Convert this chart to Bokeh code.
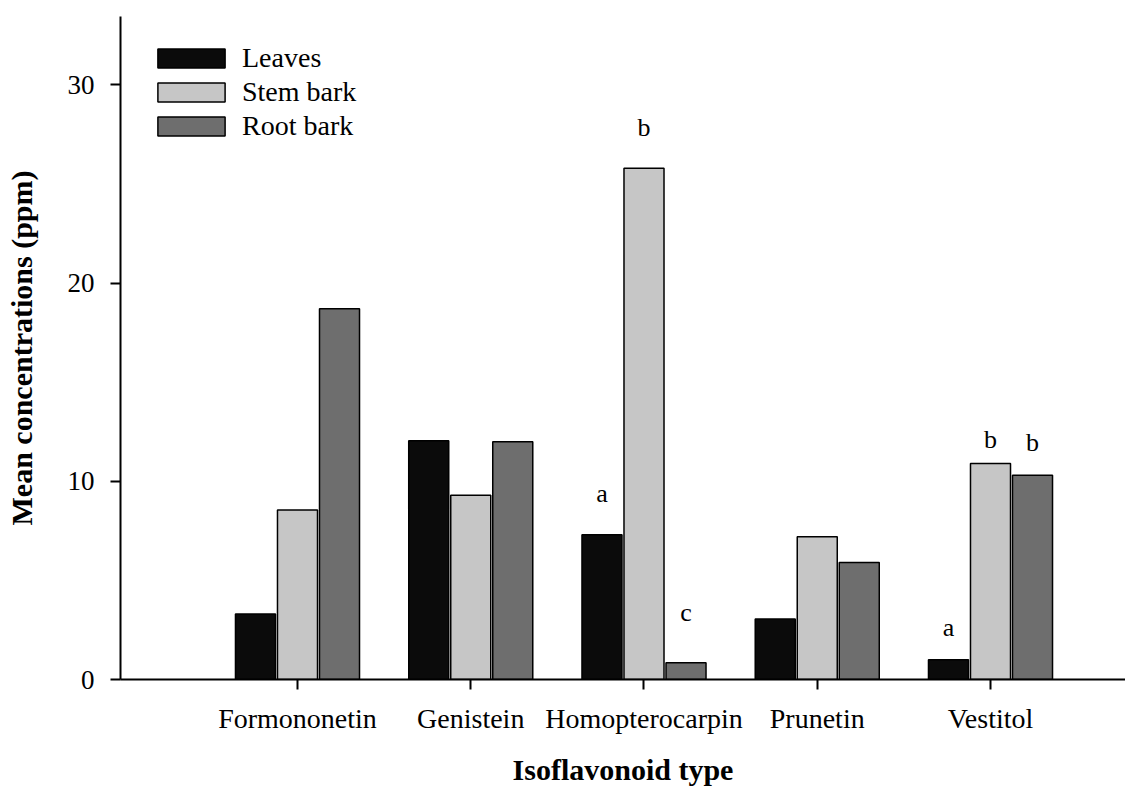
import numpy as np
from bokeh.plotting import figure
from bokeh.models import Range1d, FixedTicker, ColumnDataSource, Legend, LegendItem
from bokeh.embed import file_html
from bokeh.resources import INLINE
from bokeh.core.properties import value

# ---- data ----
categories = ["Formononetin", "Genistein", "Homopterocarpin", "Prunetin", "Vestitol"]
series_names = ["Leaves", "Stem bark", "Root bark"]
leaves = [3.3, 12.05, 7.3, 3.05, 1.0]
stem_bark = [8.55, 9.3, 25.8, 7.2, 10.9]
root_bark = [18.7, 12.0, 0.85, 5.9, 10.3]
letters_leaves = ["", "", "a", "", "a"]
letters_stem = ["", "", "b", "", "b"]
letters_root = ["", "", "c", "", "b"]
letter_y_leaves = [0, 0, 9.4, 0, 2.6]
letter_y_stem = [0, 0, 27.85, 0, 12.1]
letter_y_root = [0, 0, 3.4, 0, 11.95]
y_ticks = [0, 10, 20, 30]
x_title = "Isoflavonoid type"
y_title = "Mean concentrations (ppm)"

# ---- style ----
FONT = "Liberation Serif"
colors = ["#0b0b0b", "#c6c6c6", "#6e6e6e"]
offsets = [-0.2425, 0.0, 0.2425]
bar_w = 0.231

p = figure(width=1125, height=788, output_backend="svg", toolbar_location=None,
           x_range=Range1d(-0.0216, 5.7792), y_range=Range1d(0, 33.45),
           min_border_left=120, min_border_right=0, min_border_top=16, min_border_bottom=109)
p.outline_line_color = None
p.xgrid.visible = False
p.ygrid.visible = False
p.background_fill_color = "white"

xc = np.arange(1, len(categories) + 1)
vals = [leaves, stem_bark, root_bark]
letters = [letters_leaves, letters_stem, letters_root]
letter_ys = [letter_y_leaves, letter_y_stem, letter_y_root]

items = []
for i, name in enumerate(series_names):
    src = ColumnDataSource(dict(x=xc + offsets[i], top=vals[i]))
    r = p.vbar(x="x", top="top", width=bar_w, bottom=0, source=src,
               fill_color=colors[i], line_color="black", line_width=1.5)
    items.append(LegendItem(label=name, renderers=[r]))
    lx = [x for x, t in zip(xc + offsets[i], letters[i]) if t]
    ly = [y for y, t in zip(letter_ys[i], letters[i]) if t]
    lt = [t for t in letters[i] if t]
    p.text(x=lx, y=ly, text=lt, text_font=value(FONT), text_font_size="26px",
           text_align="center", text_baseline="middle", text_color="black")

legend = Legend(items=items, location=(29, 537))
legend.margin = 0
legend.padding = 0
legend.border_line_color = None
legend.background_fill_alpha = 0
legend.glyph_width = 84
legend.glyph_height = 24
legend.label_standoff = 9
legend.spacing = 2
legend.label_text_font = FONT
legend.label_text_font_size = "28px"
legend.label_text_color = "black"
p.add_layout(legend)

# axes
xa = p.xaxis[0]
xa.ticker = FixedTicker(ticks=list(xc))
xa.major_label_overrides = {int(k): c for k, c in zip(xc, categories)}
xa.axis_label = x_title
ya = p.yaxis[0]
ya.ticker = FixedTicker(ticks=y_ticks)
ya.axis_label = y_title
for ax in (xa, ya):
    ax.axis_line_color = "black"
    ax.axis_line_width = 2
    ax.major_tick_line_color = "black"
    ax.major_tick_line_width = 2
    ax.major_tick_out = 10
    ax.major_tick_in = 0
    ax.minor_tick_line_color = None
    ax.major_label_text_font = FONT
    ax.major_label_text_color = "black"
    ax.axis_label_text_font = FONT
    ax.axis_label_text_font_style = "bold"
    ax.axis_label_text_font_size = "30px"
    ax.axis_label_text_color = "black"
xa.major_label_text_font_size = "28px"
ya.major_label_text_font_size = "27px"
xa.major_label_standoff = 13
xa.axis_label_standoff = 16
ya.major_label_standoff = 16
ya.axis_label_standoff = 27

open("out.html", "w").write(file_html(p, INLINE))
